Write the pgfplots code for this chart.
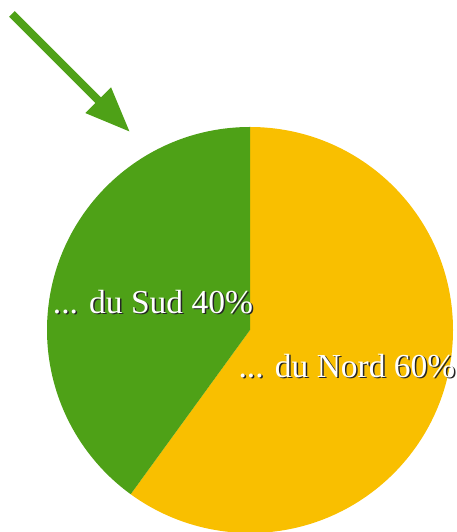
\documentclass[border=0pt]{standalone}
\usepackage{fontspec}
\setmainfont{Liberation Serif}
\usepackage{pgfplots}
\pgfplotsset{compat=1.18}
\usetikzlibrary{arrows.meta}
\definecolor{sud}{HTML}{4EA117}
\definecolor{nord}{HTML}{F9BF00}
\begin{document}
\begin{tikzpicture}
% parts (percent)
\def\nord{60}
\def\sud{40}
\pgfmathsetmacro{\split}{90-3.6*\nord}
\begin{axis}[
    hide axis,
    scale only axis,
    width=457pt, height=532pt,
    xmin=0, xmax=457,
    ymin=0, ymax=532,
]
\coordinate (ll) at (axis cs:0,0);
\coordinate (ur) at (axis cs:457,532);
% pie, centre (250,202), radius 203
\fill[nord] (axis cs:250,202) -- ++(90:203pt) arc[start angle=90, end angle=\split, radius=203pt] -- cycle;
\fill[sud] (axis cs:250,202) -- ++(90:203pt) arc[start angle=90, end angle=\split+360, radius=203pt] -- cycle;
% labels with shadow
\node[black!85, font=\fontsize{33.5}{40}\selectfont] at (axis cs:154.5,228.5) {... du Sud \sud\%};
\node[white, font=\fontsize{33.5}{40}\selectfont] at (axis cs:153,230) {... du Sud \sud\%};
\node[black!85, font=\fontsize{33.5}{40}\selectfont] at (axis cs:348.5,164.5) {... du Nord \nord\%};
\node[white, font=\fontsize{33.5}{40}\selectfont] at (axis cs:347,166) {... du Nord \nord\%};
% arrow
\draw[sud, line width=8pt, -{Triangle[length=45pt, width=34pt]}] (axis cs:12,518) -- (axis cs:130,400);
\end{axis}
\pgfresetboundingbox
\path[use as bounding box] (ll) rectangle (ur);
\end{tikzpicture}
\end{document}
